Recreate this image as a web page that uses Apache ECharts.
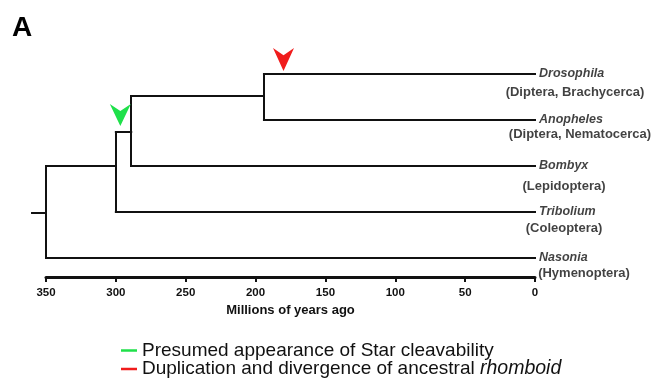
<!DOCTYPE html>
<html>
<head>
<meta charset="utf-8">
<script src="https://cdn.jsdelivr.net/npm/echarts@6/dist/echarts.min.js"></script>
<style>
  html, body { margin: 0; padding: 0; background: #fff; }
  #chart { width: 652px; height: 381px; }
</style>
</head>
<body>
<div id="chart"></div>
<script>
// taxa (leaves of the tree), top to bottom
var leafNames = ['Drosophila', 'Anopheles', 'Bombyx', 'Tribolium', 'Nasonia'];
var leafOrders = ['(Diptera, Brachycerca)', '(Diptera, Nematocerca)', '(Lepidoptera)', '(Coleoptera)', '(Hymenoptera)'];
var leafRows = [0, 1, 2, 3, 4];
var leafAge = 0;

// internal nodes: age (Mya), row where the node hangs from its parent, children
var nodeIds = ['n0', 'n1', 'n2', 'n3'];
var nodeAges = [194, 289, 300, 350];
var nodeRows = [0.48, 1.26, 2.0, 3.02];
var nodeChildren = [
  ['Drosophila', 'Anopheles'],
  ['n0', 'Bombyx'],
  ['n1', 'Tribolium'],
  ['n2', 'Nasonia']
];
var rootStemAge = 360;

// events marked with arrowheads
var eventNames = ['Presumed appearance of Star cleavability', 'Duplication and divergence of ancestral rhomboid'];
var eventAges = [296.8, 180];
var eventRows = [1.26, 0];

// layout only: where each order label sits relative to the end of its branch
var orderLabelOffsets = [[40, 18.5], [45, 14], [29, 20], [29, 16], [49, 15]];

var font = '"Liberation Sans", Arial, sans-serif';
var ink = '#111';

function rowOf (id) {
  var i = leafNames.indexOf(id);
  if (i >= 0) return leafRows[i];
  return nodeRows[nodeIds.indexOf(id)];
}
function ageOf (id) {
  var i = nodeIds.indexOf(id);
  return i >= 0 ? nodeAges[i] : leafAge;
}

var branches = [];
nodeIds.forEach(function (id, k) {
  var rows = nodeChildren[k].map(rowOf);
  branches.push({ coords: [[nodeAges[k], Math.min.apply(null, rows)], [nodeAges[k], Math.max.apply(null, rows)]] });
  nodeChildren[k].forEach(function (c) {
    branches.push({ coords: [[nodeAges[k], rowOf(c)], [ageOf(c), rowOf(c)]] });
  });
});
branches.push({ coords: [[rootStemAge, nodeRows[3]], [nodeAges[3], nodeRows[3]]] });

var arrowPath = 'path://M0,0 L10,7 L20,0 L10,22 Z';
var eventColors = ['#1fe04a', '#f01c1c'];
var eventSizes = [[21, 22], [21, 23]];
var eventGaps = [6, 3];

var option = {
  animation: false,
  title: {
    text: 'A',
    left: 7,
    top: 9,
    textStyle: { fontFamily: font, fontSize: 28, fontWeight: 'bold', color: '#000' }
  },
  grid: { left: 46, right: 117, top: 51, bottom: 104 },
  xAxis: {
    type: 'value',
    inverse: true,
    min: 0,
    max: 350,
    interval: 50,
    name: 'Millions of years ago',
    nameLocation: 'middle',
    nameGap: 25,
    nameTextStyle: { fontFamily: font, fontSize: 13, fontWeight: 'bold', color: ink },
    axisLine: { onZero: false, lineStyle: { color: ink, width: 3 } },
    axisTick: { length: 5, lineStyle: { color: ink, width: 2 } },
    axisLabel: { fontFamily: font, fontSize: 11.5, fontWeight: 'bold', color: ink, margin: 10 },
    splitLine: { show: false }
  },
  yAxis: {
    type: 'value',
    inverse: true,
    min: -0.5,
    max: 4.413,
    show: false
  },
  legend: {
    orient: 'vertical',
    left: 121,
    top: 341,
    width: 520,
    height: 80,
    padding: 0,
    itemWidth: 16,
    itemHeight: 2.5,
    itemGap: -1,
    selectedMode: false,
    data: eventNames.map(function (n) { return { name: n, icon: 'rect' }; }),
    formatter: function (name) {
      if (name.indexOf('rhomboid') >= 0) {
        return '{n|' + name.replace(' rhomboid', ' ') + '}{i|rhomboid}';
      }
      return '{n|' + name + '}';
    },
    textStyle: {
      rich: {
        n: { fontFamily: font, fontSize: 19, lineHeight: 17, color: ink },
        i: { fontFamily: font, fontSize: 19.5, lineHeight: 17, color: ink, fontStyle: 'italic' }
      }
    }
  },
  series: [
    {
      type: 'lines',
      coordinateSystem: 'cartesian2d',
      clip: false,
      silent: true,
      lineStyle: { color: ink, width: 2, opacity: 1, cap: 'square' },
      data: branches
    },
    {
      type: 'scatter',
      silent: true,
      symbolSize: 0,
      label: {
        show: true,
        position: 'right',
        distance: 4,
        formatter: '{b}',
        fontFamily: font,
        fontSize: 12.5,
        fontWeight: 'bold',
        fontStyle: 'italic',
        color: ink
      },
      data: leafNames.map(function (n, i) { return { name: n, value: [leafAge, leafRows[i]] }; })
    },
    {
      type: 'scatter',
      silent: true,
      symbolSize: 0,
      label: {
        show: true,
        position: 'inside',
        formatter: '{b}',
        fontFamily: font,
        fontSize: 13,
        fontWeight: 'bold',
        color: ink
      },
      data: leafOrders.map(function (n, i) {
        return { name: n, value: [leafAge, leafRows[i]], label: { offset: orderLabelOffsets[i] } };
      })
    }
  ].concat(eventNames.map(function (n, i) {
    return {
      type: 'scatter',
      name: n,
      silent: true,
      symbol: arrowPath,
      symbolSize: eventSizes[i],
      symbolKeepAspect: false,
      symbolOffset: [0, -(eventSizes[i][1] / 2 + eventGaps[i])],
      itemStyle: { color: eventColors[i], opacity: 1 },
      data: [[eventAges[i], eventRows[i]]]
    };
  }))
};

var chart = echarts.init(document.getElementById('chart'));
chart.setOption(option);
</script>
</body>
</html>
